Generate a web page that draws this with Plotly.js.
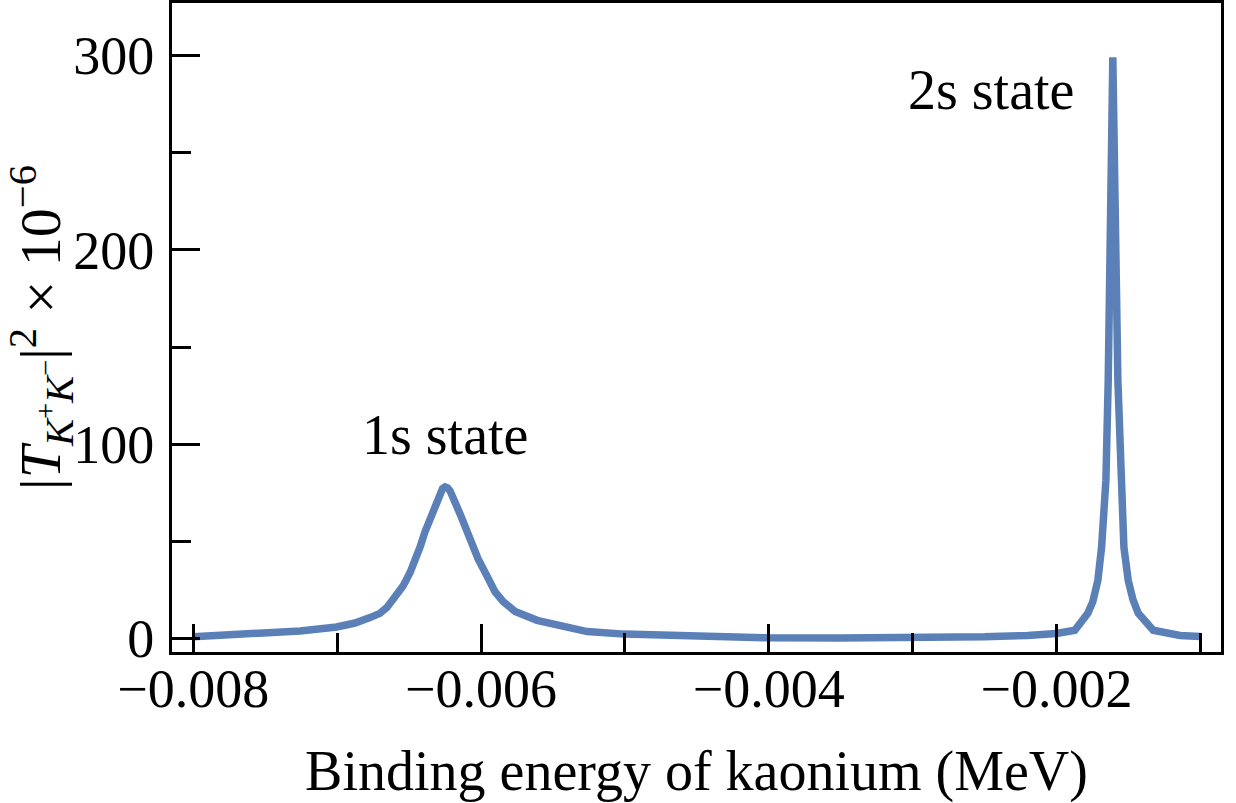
<!DOCTYPE html>
<html>
<head>
<meta charset="utf-8">
<script src="https://cdn.plot.ly/plotly-3.0.1.min.js"></script>
<style>html,body{margin:0;padding:0;background:#fff;}#chart{width:1236px;height:803px;}</style>
</head>
<body>
<div id="chart"></div>
<script>
// Binding energy (MeV)
const bindingEnergy = [
  -0.00800, -0.007745, -0.007467, -0.007258, -0.007003, -0.006876, -0.006772, -0.006703,
  -0.006654, -0.006597, -0.006542, -0.006493, -0.006459, -0.006424, -0.006389, -0.006354,
  -0.006319, -0.006302, -0.006285, -0.006267, -0.006250, -0.006232, -0.006215, -0.006197,
  -0.006180, -0.006145, -0.006110, -0.006075,
  -0.006020, -0.005957, -0.005902, -0.005846, -0.005763, -0.005610, -0.005450, -0.005262,
  -0.005005, -0.0045, -0.0040, -0.0035, -0.0030, -0.0025, -0.0022, -0.0020,
  -0.001872, -0.001782, -0.001747, -0.001712, -0.001686, -0.001656, -0.001640, -0.001608,
  -0.001573, -0.001555, -0.001531, -0.001501, -0.001468, -0.001431, -0.001327, -0.001141, -0.0010
];
// |T_{K+K-}|^2 x 10^-6
const amplitudeSq = [
  1.0, 1.8, 2.9, 3.9, 6.0, 8.0, 10.8, 13.0,
  16.0, 21.0, 27.0, 34.0, 40.0, 47.0, 55.0, 62.0,
  69.0, 72.5, 75.0, 77.2, 78.0, 77.5, 76.0, 73.5,
  70.0, 64.0, 57.0, 51.0,
  41.0, 32.0, 24.0, 19.0, 14.0, 9.4, 6.5, 3.6,
  2.3, 0.9, 0.4, 0.3, 0.4, 0.9, 1.6, 2.6,
  4.3, 13.0, 19.0, 30.0, 47.0, 81.5, 133.0, 299.0,
  133.0, 81.5, 47.0, 30.0, 20.0, 13.0, 4.3, 1.6, 1.1
];
const xTickVals = [-0.008, -0.006, -0.004, -0.002];
const yTickVals = [0, 100, 200, 300];
const stateLabels = ["1s state", "2s state"];
const stateLabelX = [-0.00625, -0.001866];
const stateLabelY = [105, 282];
const stateLabelAnchor = ["center", "right"];

const font = "Liberation Serif, Times New Roman, serif";

const trace = {
  x: bindingEnergy, y: amplitudeSq, type: "scatter", mode: "lines",
  line: {color: "#5b80b8", width: 7.5, shape: "linear"},
  hoverinfo: "skip"
};

const annotations = stateLabels.map((t, i) => ({
  x: stateLabelX[i], y: stateLabelY[i], xref: "x", yref: "y",
  text: t, showarrow: false, xanchor: stateLabelAnchor[i],
  yanchor: "middle",
  font: {family: font, size: 56, color: "#000"}
}));

const layout = {
  width: 1236, height: 803,
  margin: {l: 172, r: 15, t: 3, b: 151},
  paper_bgcolor: "#fff", plot_bgcolor: "#fff",
  showlegend: false,
  font: {family: font, size: 54, color: "#000"},
  xaxis: {
    range: [-0.008148, -0.000856],
    tickvals: xTickVals,
    ticks: "inside", ticklen: 28, tickwidth: 3, tickcolor: "#000",
    minor: {ticks: "inside", ticklen: 19, tickwidth: 3, tickcolor: "#000", dtick: 0.001, tick0: -0.008},
    showline: true, linewidth: 3, linecolor: "#000", mirror: true,
    showgrid: false, zeroline: false,
    tickfont: {family: font, size: 54, color: "#000"},
    ticklabelstandoff: -13,
    title: {text: "Binding energy of kaonium (MeV)", font: {family: font, size: 56, color: "#000"}, standoff: 37}
  },
  yaxis: {
    range: [-6.9, 327],
    tickvals: yTickVals,
    ticks: "inside", ticklen: 28, tickwidth: 3, tickcolor: "#000",
    minor: {ticks: "inside", ticklen: 19, tickwidth: 3, tickcolor: "#000", dtick: 50, tick0: 0},
    showline: true, linewidth: 3, linecolor: "#000", mirror: true,
    showgrid: false, zeroline: false,
    tickfont: {family: font, size: 54, color: "#000"},
    ticklabelstandoff: 4,
    title: {text: "|<i>T</i><sub><i>K</i><sup>+</sup><i>K</i><sup>−</sup></sub>|<sup>2</sup> × 10<sup>−6</sup>", font: {family: font, size: 58, color: "#000"}, standoff: 12}
  },
  annotations: annotations
};

Plotly.newPlot("chart", [trace], layout, {displayModeBar: false, staticPlot: true});
</script>
</body>
</html>
